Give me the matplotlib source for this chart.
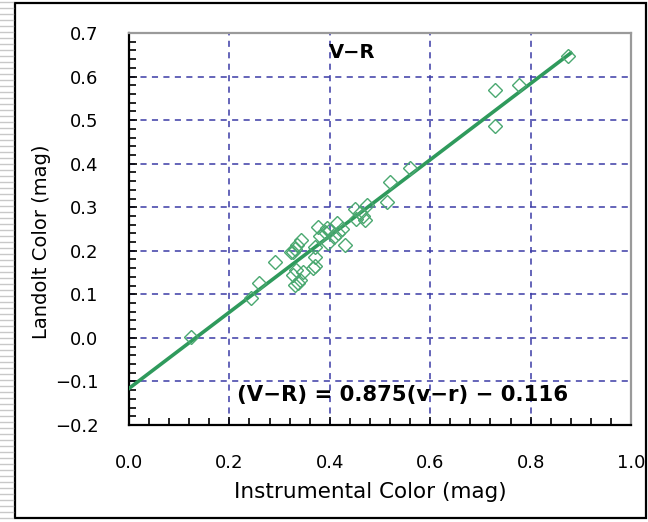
import numpy as np
import matplotlib
matplotlib.use("Agg")
import matplotlib.pyplot as plt
from matplotlib.patches import Rectangle
from matplotlib.lines import Line2D
from matplotlib.ticker import MultipleLocator, FuncFormatter

plt.rcParams["font.family"] = ["DejaVu Sans"]

# instrumental (v-r) vs Landolt (V-R) colours of the standard stars
inst_color = [0.124, 0.244, 0.258, 0.291, 0.323, 0.327, 0.331, 0.334, 0.343,
              0.333, 0.327, 0.337, 0.341, 0.331, 0.347, 0.367, 0.371, 0.371,
              0.371, 0.377, 0.380, 0.390, 0.394, 0.400, 0.396, 0.408, 0.416,
              0.414, 0.424, 0.430, 0.450, 0.453, 0.460, 0.470, 0.474, 0.466,
              0.513, 0.520, 0.560, 0.729, 0.729, 0.777, 0.875]
landolt_color = [0.002, 0.091, 0.126, 0.175, 0.198, 0.198, 0.204, 0.213, 0.225,
                 0.156, 0.144, 0.126, 0.134, 0.122, 0.152, 0.160, 0.186, 0.209,
                 0.165, 0.255, 0.234, 0.243, 0.252, 0.248, 0.218, 0.232, 0.240,
                 0.263, 0.250, 0.213, 0.297, 0.274, 0.286, 0.270, 0.305, 0.280,
                 0.313, 0.359, 0.389, 0.569, 0.486, 0.580, 0.647]

slope, intercept = 0.875, -0.116
fit_x = [0.0, 0.88]

green = "#2f9a5c"
grid_blue = "#3b3ba6"

fig = plt.figure(figsize=(6.48, 5.22), dpi=100)
ax = fig.add_axes([129 / 648, 1 - 425 / 522, 502 / 648, 392 / 522])

ax.set_xlim(0.0, 1.0)
ax.set_ylim(-0.2, 0.7)

fx = np.array(fit_x)
ax.plot(fx, slope * fx + intercept, "-", color=green, lw=2.6, zorder=3)
ax.plot(inst_color, landolt_color, "D", ms=7.5, mfc="none", mec="#4aa870",
        mew=1.0, zorder=4)

fmt = FuncFormatter(lambda v, _: ("%.1f" % v).replace("-", "\u2212"))
ax.xaxis.set_major_locator(MultipleLocator(0.2))
ax.xaxis.set_minor_locator(MultipleLocator(0.04))
ax.yaxis.set_major_locator(MultipleLocator(0.1))
ax.yaxis.set_minor_locator(MultipleLocator(0.02))
ax.xaxis.set_major_formatter(fmt)
ax.yaxis.set_major_formatter(fmt)

ax.grid(True, which="major", color=grid_blue, ls=(0, (4, 3.5)), lw=1.1)
ax.tick_params(which="both", direction="in", top=False, right=False,
               labelsize=13, colors="black")
ax.tick_params(axis="x", which="major", length=6, width=1.2, pad=21)
ax.tick_params(axis="x", which="minor", length=5, width=1.2)
ax.tick_params(axis="y", which="major", length=6, width=1.2, pad=22)
ax.tick_params(axis="y", which="minor", length=5, width=1.2)

for side in ("left", "bottom"):
    ax.spines[side].set_color("black")
    ax.spines[side].set_linewidth(1.6)
for side in ("top", "right"):
    ax.spines[side].set_color("#9a9a9a")
    ax.spines[side].set_linewidth(1.6)

ax.set_xlabel("Instrumental Color (mag)", fontsize=15.5)
ax.set_ylabel("Landolt Color (mag)", fontsize=14)
ax.xaxis.set_label_coords((370 - 129) / 502, -(492 - 425) / 392)
ax.yaxis.set_label_coords(-(129 - 42) / 502, (425 - 242) / 392)
ax.xaxis.label.set_va("center")
ax.yaxis.label.set_va("center")

ax.text(0.444, 0.655, "V\u2212R", fontsize=14, fontweight="bold",
        ha="center", va="center")
ax.text(0.544, -0.132, "(V\u2212R) = 0.875(v\u2212r) \u2212 0.116",
        fontsize=15.3, fontweight="bold", ha="center", va="center")

# striped strip down the left edge and the outer frame
for yy in np.arange(2, 522, 6):
    fig.add_artist(Line2D([0, 13 / 648], [1 - yy / 522] * 2, color="#c8c8c8",
                          lw=1.0, transform=fig.transFigure))
fig.add_artist(Rectangle((15 / 648, 1 - 518 / 522), 631 / 648, 515 / 522,
                         fill=False, ec="black", lw=1.6,
                         transform=fig.transFigure))

fig.savefig("out.png", dpi=100)
